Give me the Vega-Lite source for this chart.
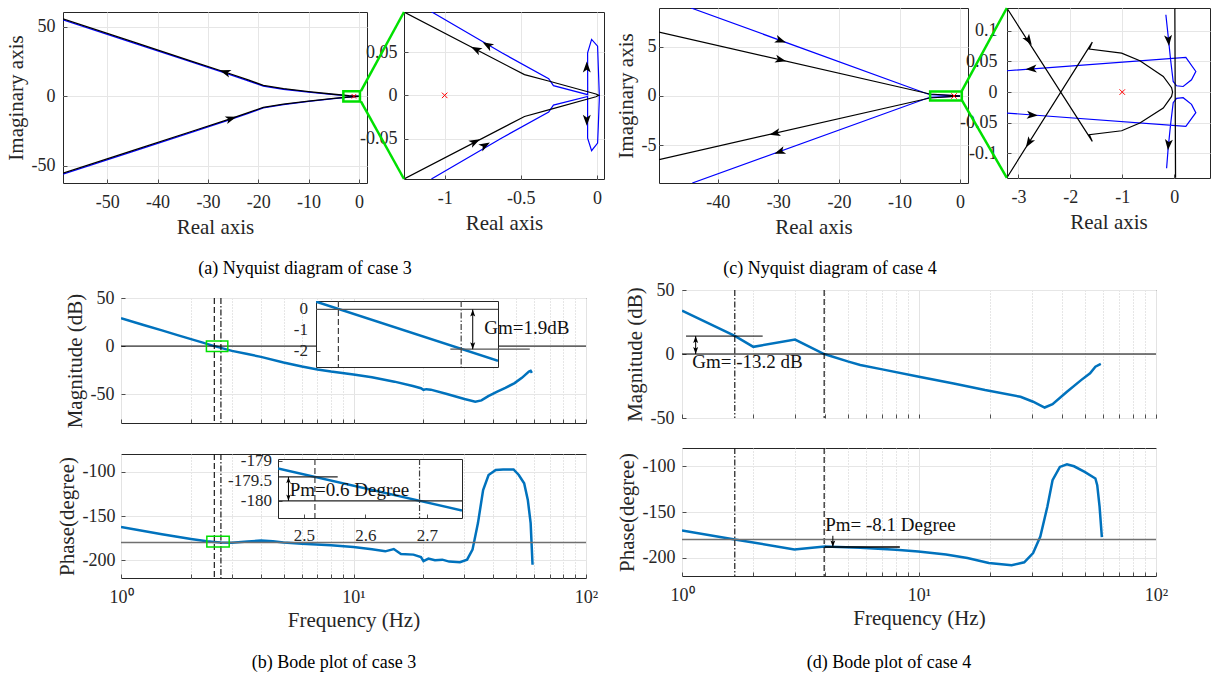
{
"$schema": "https://vega.github.io/schema/vega-lite/v6.json",
"background": "white",
"padding": 0,
"autosize": {"type": "pad"},
"spacing": 0,
"bounds": "flush",
"config": {
 "view": {"stroke": null},
 "axis": {"labelFont": "Liberation Serif", "labelFontSize": 18, "labelColor": "#262626", "titleFont": "Liberation Serif", "titleFontSize": 21, "titleFontWeight": "normal", "titleColor": "#262626", "ticks": true, "tickSize": -4, "tickColor": "#262626", "tickWidth": 0.8, "domain": false, "gridColor": "#e6e6e6", "labelPadding": 12, "titlePadding": 5, "labelFlush": false, "labelOverlap": false},
 "text": {"font": "Liberation Serif", "fontSize": 19, "color": "#111111"},
 "point": {"opacity": 1}
},
"datasets": {
 "cross": [{"x": -1, "y": 0}],
 "zero": [{"y": 0}],
 "m180": [{"y": -180}],
 "aMain": [
  {"g":"k","s":"ku","i":0,"x":-58.8,"y":55.8},{"g":"k","s":"ku","i":1,"x":-45,"y":39.4},{"g":"k","s":"ku","i":2,"x":-33,"y":25.1},{"g":"k","s":"ku","i":3,"x":-26.2,"y":17.0},{"g":"k","s":"ku","i":4,"x":-22,"y":11.8},{"g":"k","s":"ku","i":5,"x":-19,"y":7.9},{"g":"k","s":"ku","i":6,"x":-15,"y":5.6},{"g":"k","s":"ku","i":7,"x":-10,"y":3.4},{"g":"k","s":"ku","i":8,"x":-5,"y":1.5},{"g":"k","s":"ku","i":9,"x":-2,"y":0.5},{"g":"k","s":"ku","i":10,"x":0,"y":0},
  {"g":"k","s":"kl","i":0,"x":-58.8,"y":-55.4},{"g":"k","s":"kl","i":1,"x":-45,"y":-39.2},{"g":"k","s":"kl","i":2,"x":-33,"y":-25.0},{"g":"k","s":"kl","i":3,"x":-26.2,"y":-17.0},{"g":"k","s":"kl","i":4,"x":-22,"y":-11.8},{"g":"k","s":"kl","i":5,"x":-19,"y":-7.9},{"g":"k","s":"kl","i":6,"x":-15,"y":-5.6},{"g":"k","s":"kl","i":7,"x":-10,"y":-3.4},{"g":"k","s":"kl","i":8,"x":-5,"y":-1.5},{"g":"k","s":"kl","i":9,"x":-2,"y":-0.5},{"g":"k","s":"kl","i":10,"x":0,"y":0},
  {"g":"b","s":"bu","i":0,"x":-58.8,"y":55.1},{"g":"b","s":"bu","i":1,"x":-45,"y":38.8},{"g":"b","s":"bu","i":2,"x":-33,"y":24.5},{"g":"b","s":"bu","i":3,"x":-26.2,"y":16.4},{"g":"b","s":"bu","i":4,"x":-22,"y":11.2},{"g":"b","s":"bu","i":5,"x":-19,"y":7.4},{"g":"b","s":"bu","i":6,"x":-15,"y":5.1},{"g":"b","s":"bu","i":7,"x":-10,"y":3.0},{"g":"b","s":"bu","i":8,"x":-5,"y":1.2},{"g":"b","s":"bu","i":9,"x":-2,"y":0.3},{"g":"b","s":"bu","i":10,"x":0,"y":0},
  {"g":"b","s":"bl","i":0,"x":-58.8,"y":-56.1},{"g":"b","s":"bl","i":1,"x":-45,"y":-39.9},{"g":"b","s":"bl","i":2,"x":-33,"y":-25.6},{"g":"b","s":"bl","i":3,"x":-26.2,"y":-17.5},{"g":"b","s":"bl","i":4,"x":-22,"y":-12.3},{"g":"b","s":"bl","i":5,"x":-19,"y":-8.3},{"g":"b","s":"bl","i":6,"x":-15,"y":-6.0},{"g":"b","s":"bl","i":7,"x":-10,"y":-3.7},{"g":"b","s":"bl","i":8,"x":-5,"y":-1.7},{"g":"b","s":"bl","i":9,"x":-2,"y":-0.6},{"g":"b","s":"bl","i":10,"x":0,"y":0}
 ],
 "aMainArrows": [{"x": -26.5, "y": 17.4, "a": 288}, {"x": -25.5, "y": -16.1, "a": 72}],
 "aMainBox": [{"x": -3.1, "x2": 0.2, "y": -3.8, "y2": 3.6}],
 "aIn": [
  {"g":"k","s":"k","i":0,"x":-1.267,"y":0.0965},{"g":"k","s":"k","i":1,"x":-0.476,"y":0.024},{"g":"k","s":"k","i":2,"x":-0.312,"y":0.0163},{"g":"k","s":"k","i":3,"x":-0.007,"y":0.0016},{"g":"k","s":"k","i":4,"x":0.012,"y":0},{"g":"k","s":"k","i":5,"x":-0.007,"y":-0.0016},{"g":"k","s":"k","i":6,"x":-0.312,"y":-0.0165},{"g":"k","s":"k","i":7,"x":-0.476,"y":-0.0244},{"g":"k","s":"k","i":8,"x":-1.267,"y":-0.0968},
  {"g":"b","s":"b","i":0,"x":-1.087,"y":0.0968},{"g":"b","s":"b","i":1,"x":-0.625,"y":0.0493},{"g":"b","s":"b","i":2,"x":-0.317,"y":0.0194},{"g":"b","s":"b","i":3,"x":-0.286,"y":0.0113},{"g":"b","s":"b","i":4,"x":-0.061,"y":0.0008},{"g":"b","s":"b","i":5,"x":-0.0616,"y":0.0493},{"g":"b","s":"b","i":6,"x":-0.0354,"y":0.0648},{"g":"b","s":"b","i":7,"x":0.0039,"y":0.057},{"g":"b","s":"b","i":8,"x":0.0085,"y":0.0337},{"g":"b","s":"b","i":9,"x":0.015,"y":0.0008},{"g":"b","s":"b","i":10,"x":0.015,"y":-0.005},{"g":"b","s":"b","i":11,"x":0.0085,"y":-0.036},{"g":"b","s":"b","i":12,"x":0.0039,"y":-0.0553},{"g":"b","s":"b","i":13,"x":-0.0354,"y":-0.064},{"g":"b","s":"b","i":14,"x":-0.0616,"y":-0.0495},{"g":"b","s":"b","i":15,"x":-0.0616,"y":-0.0012},{"g":"b","s":"b","i":16,"x":-0.286,"y":-0.0113},{"g":"b","s":"b","i":17,"x":-0.317,"y":-0.0194},{"g":"b","s":"b","i":18,"x":-0.625,"y":-0.0493},{"g":"b","s":"b","i":19,"x":-1.087,"y":-0.0968}
 ],
 "aInArrows": [{"x": -0.792, "y": 0.053, "a": 297}, {"x": -0.716, "y": 0.058, "a": 300}, {"x": -0.804, "y": -0.054, "a": 63}, {"x": -0.738, "y": -0.058, "a": 60}, {"x": -0.067, "y": 0.032, "a": 0}, {"x": -0.067, "y": -0.028, "a": 180}],
 "aInLinks": [{"s": "t", "i": 0, "x": -1.55, "y": 0.005}, {"s": "t", "i": 1, "x": -1.267, "y": 0.0965}, {"s": "b", "i": 0, "x": -1.55, "y": -0.007}, {"s": "b", "i": 1, "x": -1.267, "y": -0.0968}],
 "cMain": [
  {"g":"b","s":"bu","i":0,"x":-44.4,"y":8.9},{"g":"b","s":"bu","i":1,"x":-5,"y":0.13},{"g":"b","s":"bu","i":2,"x":-1,"y":0.03},{"g":"b","s":"bu","i":3,"x":0,"y":0},
  {"g":"b","s":"bl","i":0,"x":-44.2,"y":-8.8},{"g":"b","s":"bl","i":1,"x":-5,"y":-0.13},{"g":"b","s":"bl","i":2,"x":-1,"y":-0.03},{"g":"b","s":"bl","i":3,"x":0,"y":0},
  {"g":"k","s":"ku","i":0,"x":-49.7,"y":6.46},{"g":"k","s":"ku","i":1,"x":-5,"y":0.2},{"g":"k","s":"ku","i":2,"x":-1,"y":0.04},{"g":"k","s":"ku","i":3,"x":0,"y":0},
  {"g":"k","s":"kl","i":0,"x":-49.7,"y":-6.43},{"g":"k","s":"kl","i":1,"x":-5,"y":-0.2},{"g":"k","s":"kl","i":2,"x":-1,"y":-0.04},{"g":"k","s":"kl","i":3,"x":0,"y":0}
 ],
 "cMainArrows": [{"x": -29.7, "y": 5.63, "a": 110}, {"x": -29.7, "y": 3.66, "a": 103}, {"x": -29.7, "y": -5.63, "a": 250}, {"x": -30.5, "y": -3.77, "a": 257}],
 "cMainBox": [{"x": -4.95, "x2": 0.28, "y": -0.45, "y2": 0.46}],
 "cIn": [
  {"g":"k","s":"k1","i":0,"x":-3.223,"y":0.137},{"g":"k","s":"k1","i":1,"x":-1.577,"y":-0.0804},{"g":"k","s":"k1","i":2,"x":-1.634,"y":-0.0695},{"g":"k","s":"k1","i":3,"x":-1.012,"y":-0.063},{"g":"k","s":"k1","i":4,"x":-0.66,"y":-0.0505},{"g":"k","s":"k1","i":5,"x":-0.21,"y":-0.026},{"g":"k","s":"k1","i":6,"x":-0.05,"y":-0.0071},{"g":"k","s":"k1","i":7,"x":-0.031,"y":0},{"g":"k","s":"k1","i":8,"x":-0.05,"y":0.0071},{"g":"k","s":"k1","i":9,"x":-0.21,"y":0.0254},{"g":"k","s":"k1","i":10,"x":-0.66,"y":0.051},{"g":"k","s":"k1","i":11,"x":-1.012,"y":0.0635},{"g":"k","s":"k1","i":12,"x":-1.634,"y":0.070},{"g":"k","s":"k1","i":13,"x":-1.577,"y":0.0814},{"g":"k","s":"k1","i":14,"x":-3.223,"y":-0.1396},
  {"g":"k","s":"k2","i":0,"x":0.013,"y":0.137},{"g":"k","s":"k2","i":1,"x":0.02,"y":0},{"g":"k","s":"k2","i":2,"x":0.027,"y":-0.1396},
  {"g":"b","s":"bu","i":0,"x":-3.223,"y":0.0347},{"g":"b","s":"bu","i":1,"x":0.225,"y":0.0564},{"g":"b","s":"bu","i":2,"x":0.417,"y":0.0336},{"g":"b","s":"bu","i":3,"x":0.334,"y":0.020},{"g":"b","s":"bu","i":4,"x":0.173,"y":0.0091},{"g":"b","s":"bu","i":5,"x":0.046,"y":0.0103},{"g":"b","s":"bu","i":6,"x":-0.019,"y":0.0173},{"g":"b","s":"bu","i":7,"x":-0.069,"y":0.0526},{"g":"b","s":"bu","i":8,"x":-0.115,"y":0.0906},{"g":"b","s":"bu","i":9,"x":-0.160,"y":0.126},
  {"g":"b","s":"bl","i":0,"x":-3.223,"y":-0.0342},{"g":"b","s":"bl","i":1,"x":0.225,"y":-0.056},{"g":"b","s":"bl","i":2,"x":0.417,"y":-0.0336},{"g":"b","s":"bl","i":3,"x":0.334,"y":-0.020},{"g":"b","s":"bl","i":4,"x":0.173,"y":-0.0091},{"g":"b","s":"bl","i":5,"x":0.046,"y":-0.0103},{"g":"b","s":"bl","i":6,"x":-0.019,"y":-0.0173},{"g":"b","s":"bl","i":7,"x":-0.069,"y":-0.0526},{"g":"b","s":"bl","i":8,"x":-0.115,"y":-0.0906},{"g":"b","s":"bl","i":9,"x":-0.146,"y":-0.124}
 ],
 "cInArrows": [{"x": -2.808, "y": 0.085, "a": 147}, {"x": -2.794, "y": -0.082, "a": 212}, {"x": -2.743, "y": 0.0378, "a": 266}, {"x": -2.743, "y": -0.0374, "a": 94}, {"x": -0.11, "y": 0.085, "a": 175}, {"x": -0.11, "y": -0.085, "a": 185}],
 "cInLinks": [{"s": "t", "i": 0, "x": -4.09, "y": 0.002}, {"s": "t", "i": 1, "x": -3.223, "y": 0.137}, {"s": "b", "i": 0, "x": -4.09, "y": -0.013}, {"s": "b", "i": 1, "x": -3.223, "y": -0.1396}],
 "bMag": [{"x":1,"y":29.0},{"x":1.25,"y":21.9},{"x":1.5,"y":16.3},{"x":1.75,"y":11.4},{"x":2,"y":7.2},{"x":2.25,"y":3.6},{"x":2.52,"y":0},{"x":2.69,"y":-1.9},{"x":3,"y":-5.0},{"x":3.5,"y":-8.3},{"x":4,"y":-11.2},{"x":5,"y":-17},{"x":6,"y":-21.2},{"x":7,"y":-24.3},{"x":8,"y":-26.5},{"x":10,"y":-29.5},{"x":12,"y":-32.5},{"x":15,"y":-37},{"x":18,"y":-41.5},{"x":19.5,"y":-43.8},{"x":20,"y":-45.5},{"x":20.6,"y":-44.8},{"x":21.5,"y":-45.3},{"x":25,"y":-49.5},{"x":30,"y":-55},{"x":33.4,"y":-57.8},{"x":35.5,"y":-56.5},{"x":38,"y":-52},{"x":41.3,"y":-47.6},{"x":45,"y":-43.5},{"x":49.3,"y":-38.5},{"x":53,"y":-33},{"x":56.8,"y":-26.5},{"x":57.8,"y":-25.8},{"x":58.5,"y":-27.8}],
 "bPh": [{"x":1,"y":-162.5},{"x":1.5,"y":-170.5},{"x":2,"y":-176},{"x":2.34,"y":-178.6},{"x":2.52,"y":-179.4},{"x":2.69,"y":-180},{"x":3,"y":-180.3},{"x":3.5,"y":-178.8},{"x":4,"y":-177.8},{"x":4.5,"y":-178.6},{"x":5,"y":-179.8},{"x":6,"y":-181.3},{"x":8,"y":-183},{"x":10,"y":-185},{"x":12,"y":-187.5},{"x":13.7,"y":-189.9},{"x":14.9,"y":-187.3},{"x":16,"y":-192.9},{"x":18.1,"y":-193.6},{"x":19.5,"y":-196.3},{"x":20,"y":-201},{"x":21,"y":-198.1},{"x":22.4,"y":-200},{"x":24.1,"y":-199.3},{"x":25.8,"y":-201.5},{"x":28.7,"y":-202.2},{"x":30.8,"y":-199.3},{"x":32.5,"y":-188},{"x":34.3,"y":-158},{"x":36.1,"y":-120.6},{"x":38.1,"y":-103.7},{"x":40.9,"y":-98.1},{"x":44,"y":-97.5},{"x":48.8,"y":-97.4},{"x":51.4,"y":-103.7},{"x":54.2,"y":-113.1},{"x":56.2,"y":-131.8},{"x":57.8,"y":-158},{"x":58.9,"y":-205}],
 "dMag": [{"x":1,"y":33.8},{"x":1.67,"y":14.2},{"x":2,"y":5.6},{"x":3,"y":11.3},{"x":3.98,"y":0},{"x":5,"y":-5.8},{"x":5.65,"y":-8.6},{"x":7,"y":-12},{"x":10,"y":-17.8},{"x":14,"y":-23},{"x":19,"y":-28.2},{"x":26.8,"y":-33.4},{"x":30.3,"y":-37.3},{"x":33.9,"y":-41.8},{"x":36.6,"y":-39.2},{"x":42.1,"y":-29.5},{"x":48.3,"y":-20.4},{"x":52.7,"y":-15.1},{"x":55.5,"y":-9.9},{"x":58.5,"y":-7.8}],
 "dPh": [{"x":1,"y":-170.3},{"x":1.67,"y":-180},{"x":2.98,"y":-190.9},{"x":4,"y":-187.7},{"x":5.65,"y":-189},{"x":8,"y":-191.3},{"x":9.93,"y":-193.1},{"x":13,"y":-196.5},{"x":16,"y":-200.4},{"x":19.7,"y":-205.8},{"x":24.6,"y":-208.3},{"x":27.8,"y":-205},{"x":30.3,"y":-194.9},{"x":32.5,"y":-176.8},{"x":34.8,"y":-144.2},{"x":36.6,"y":-115.2},{"x":39.3,"y":-100.7},{"x":42.1,"y":-97.8},{"x":45.1,"y":-100},{"x":50,"y":-106.2},{"x":55.5,"y":-113.4},{"x":56.5,"y":-120.7},{"x":57.8,"y":-144.2},{"x":59.1,"y":-177.5}],
 "bLines": [{"x": 2.52, "k": "gain crossover"}, {"x": 2.69, "k": "phase crossover"}],
 "dLines": [{"x": 3.98, "k": "gain crossover"}, {"x": 1.67, "k": "phase crossover"}],
 "bMagBox": [{"x": 2.33, "x2": 2.88, "y": -5.6, "y2": 5.2}],
 "bPhBox": [{"x": 2.34, "x2": 2.92, "y": -185, "y2": -173}],
 "bMagIn": [{"x": 2.487, "y": 0.37}, {"x": 2.739, "y": -2.45}],
 "bMagInLines": [{"x": 2.518, "k": "gain crossover"}, {"x": 2.688, "k": "phase crossover"}],
 "bMagInGm": [{"x": 2.673, "x2": 2.783, "y": -1.9}],
 "bMagInArrow": [{"x": 2.704, "y": 0, "y2": -1.9}],
 "bMagInHeads": [{"x": 2.704, "y": 0, "a": 0}, {"x": 2.704, "y": -1.9, "a": 180}],
 "bMagInText": [{"x": 2.72, "y": -0.91, "t": "Gm=1.9dB"}],
 "bMagInTicks": [{"y": 0, "t": "0"}, {"y": -1, "t": "-1"}, {"y": -2, "t": "-2"}],
 "bPhIn": [{"x": 2.458, "y": -179.19}, {"x": 2.757, "y": -180.24}],
 "bPhInLines": [{"x": 2.518, "k": "gain crossover"}, {"x": 2.688, "k": "phase crossover"}],
 "bPhInPm": [{"x": 2.458, "x2": 2.555, "y": -179.4}],
 "bPhInArrow": [{"x": 2.475, "y": -179.4, "y2": -180}],
 "bPhInHeads": [{"x": 2.475, "y": -179.4, "a": 0}, {"x": 2.475, "y": -180, "a": 180}],
 "bPhInText": [{"x": 2.477, "y": -179.72, "t": "Pm=0.6 Degree"}],
 "bPhInTicks": [{"y": -179, "t": "-179"}, {"y": -179.5, "t": "-179.5"}, {"y": -180, "t": "-180"}],
 "dMagGm": [{"x": 1.04, "x2": 2.19, "y": 14}],
 "dMagArrow": [{"x": 1.142, "y": 0, "y2": 14}],
 "dMagHeads": [{"x": 1.142, "y": 14, "a": 0}, {"x": 1.142, "y": 0, "a": 180}],
 "dMagText": [{"x": 1.105, "y": -6.2, "t": "Gm= -13.2 dB"}],
 "dPhPm": [{"x": 4.0, "x2": 8.3, "y": -188.3}],
 "dPhArrow": [{"x": 4.33, "y": -176, "y2": -187.5}],
 "dPhHeads": [{"x": 4.33, "y": -188.3, "a": 180}],
 "dPhText": [{"x": 4.02, "y": -164.3, "t": "Pm= -8.1 Degree"}]
},
"vconcat": [
 {"width": 1, "height": 8, "data": {"values": []}, "mark": "point"},
 {"hconcat": [
   {"width": 659, "height": 1, "data": {"values": []}, "mark": "point"},
   {"width": 309, "height": 175, "view": {"stroke": "#262626"},
    "layer": [
     {"data": {"name": "cMain"}, "transform": [{"filter": "datum.g == 'b'"}], "mark": {"type": "line", "color": "#0000ff", "strokeWidth": 1.2, "clip": true},
      "encoding": {"x": {"field": "x", "type": "quantitative", "scale": {"domain": [-49.7, 1.3], "nice": false}, "axis": {"values": [-40, -30, -20, -10, 0], "labelExpr": "'' + datum.value", "title": "Real axis", "labelPadding": 14, "labelOverlap": false}},
                   "y": {"field": "y", "type": "quantitative", "scale": {"domain": [-8.8, 8.9], "nice": false}, "axis": {"values": [-5, 0, 5], "labelExpr": "'' + datum.value", "title": "Imaginary axis", "labelPadding": 7, "labelOverlap": false}},
                   "detail": {"field": "s"}, "order": {"field": "i"}}},
     {"data": {"name": "cMain"}, "transform": [{"filter": "datum.g == 'k'"}], "mark": {"type": "line", "color": "#000000", "strokeWidth": 1.2, "clip": true},
      "encoding": {"x": {"field": "x", "type": "quantitative"}, "y": {"field": "y", "type": "quantitative"}, "detail": {"field": "s"}, "order": {"field": "i"}}},
     {"data": {"name": "cMainArrows"}, "mark": {"type": "point", "shape": "M0,-1L0.65,0.8L0,0.35L-0.65,0.8Z", "filled": true, "color": "#000000", "size": 150},
      "encoding": {"x": {"field": "x", "type": "quantitative"}, "y": {"field": "y", "type": "quantitative"}, "angle": {"field": "a", "type": "quantitative", "scale": null}}},
     {"data": {"name": "cross"}, "mark": {"type": "point", "shape": "M-1,-1L1,1M1,-1L-1,1", "filled": false, "color": "#ff0000", "strokeWidth": 1, "size": 30},
      "encoding": {"x": {"field": "x", "type": "quantitative"}, "y": {"field": "y", "type": "quantitative"}}},
     {"data": {"name": "cMainBox"}, "mark": {"type": "rect", "filled": false, "color": "#00e000", "strokeWidth": 2.5},
      "encoding": {"x": {"field": "x", "type": "quantitative"}, "x2": {"field": "x2"}, "y": {"field": "y", "type": "quantitative"}, "y2": {"field": "y2"}}}
    ]},
   {"width": 39, "height": 1, "data": {"values": []}, "mark": "point"},
   {"width": 203, "height": 170, "view": {"stroke": "#262626"},
    "layer": [
     {"data": {"name": "cIn"}, "transform": [{"filter": "datum.g == 'b'"}], "mark": {"type": "line", "color": "#0000ff", "strokeWidth": 1.2, "clip": true},
      "encoding": {"x": {"field": "x", "type": "quantitative", "scale": {"domain": [-3.22, 0.69], "nice": false}, "axis": {"values": [-3, -2, -1, 0], "labelExpr": "'' + datum.value", "title": "Real axis", "labelPadding": 14, "labelOverlap": false}},
                   "y": {"field": "y", "type": "quantitative", "scale": {"domain": [-0.14, 0.137], "nice": false}, "axis": {"values": [-0.1, -0.05, 0, 0.05, 0.1], "labelExpr": "'' + datum.value", "title": null, "labelPadding": 14, "labelOverlap": false}},
                   "detail": {"field": "s"}, "order": {"field": "i"}}},
     {"data": {"name": "cIn"}, "transform": [{"filter": "datum.g == 'k'"}], "mark": {"type": "line", "color": "#000000", "strokeWidth": 1.2, "clip": true},
      "encoding": {"x": {"field": "x", "type": "quantitative"}, "y": {"field": "y", "type": "quantitative"}, "detail": {"field": "s"}, "order": {"field": "i"}}},
     {"data": {"name": "cInArrows"}, "mark": {"type": "point", "shape": "M0,-1L0.65,0.8L0,0.35L-0.65,0.8Z", "filled": true, "color": "#000000", "size": 150},
      "encoding": {"x": {"field": "x", "type": "quantitative"}, "y": {"field": "y", "type": "quantitative"}, "angle": {"field": "a", "type": "quantitative", "scale": null}}},
     {"data": {"name": "cross"}, "mark": {"type": "point", "shape": "M-1,-1L1,1M1,-1L-1,1", "filled": false, "color": "#ff0000", "strokeWidth": 1, "size": 30},
      "encoding": {"x": {"field": "x", "type": "quantitative"}, "y": {"field": "y", "type": "quantitative"}}},
     {"data": {"name": "cInLinks"}, "mark": {"type": "line", "color": "#00e000", "strokeWidth": 2.5, "clip": false},
      "encoding": {"x": {"field": "x", "type": "quantitative"}, "y": {"field": "y", "type": "quantitative"}, "detail": {"field": "s"}, "order": {"field": "i"}}}
    ]}
  ], "spacing": 0, "bounds": "flush"},
 {"width": 1, "height": 4, "data": {"values": []}, "mark": "point"},
 {"hconcat": [
   {"width": 63, "height": 1, "data": {"values": []}, "mark": "point"},
   {"width": 304, "height": 171, "view": {"stroke": "#262626"},
    "layer": [
     {"data": {"name": "aMain"}, "transform": [{"filter": "datum.g == 'b'"}], "mark": {"type": "line", "color": "#0000ff", "strokeWidth": 1.3, "clip": true},
      "encoding": {"x": {"field": "x", "type": "quantitative", "scale": {"domain": [-58.8, 1.6], "nice": false}, "axis": {"values": [-50, -40, -30, -20, -10, 0], "labelExpr": "'' + datum.value", "title": "Real axis", "labelPadding": 14, "labelOverlap": false}},
                   "y": {"field": "y", "type": "quantitative", "scale": {"domain": [-62.5, 60.8], "nice": false}, "axis": {"values": [-50, 0, 50], "labelExpr": "'' + datum.value", "title": "Imaginary axis", "labelPadding": 12, "labelOverlap": false}},
                   "detail": {"field": "s"}, "order": {"field": "i"}}},
     {"data": {"name": "aMain"}, "transform": [{"filter": "datum.g == 'k'"}], "mark": {"type": "line", "color": "#000000", "strokeWidth": 1.3, "clip": true},
      "encoding": {"x": {"field": "x", "type": "quantitative"}, "y": {"field": "y", "type": "quantitative"}, "detail": {"field": "s"}, "order": {"field": "i"}}},
     {"data": {"name": "aMainArrows"}, "mark": {"type": "point", "shape": "M0,-1L0.65,0.8L0,0.35L-0.65,0.8Z", "filled": true, "color": "#000000", "size": 150},
      "encoding": {"x": {"field": "x", "type": "quantitative"}, "y": {"field": "y", "type": "quantitative"}, "angle": {"field": "a", "type": "quantitative", "scale": null}}},
     {"data": {"name": "cross"}, "mark": {"type": "point", "shape": "M-1,-1L1,1M1,-1L-1,1", "filled": false, "color": "#ff0000", "strokeWidth": 1, "size": 20},
      "encoding": {"x": {"field": "x", "type": "quantitative"}, "y": {"field": "y", "type": "quantitative"}}},
     {"data": {"name": "aMainBox"}, "mark": {"type": "rect", "filled": false, "color": "#00e000", "strokeWidth": 2.5},
      "encoding": {"x": {"field": "x", "type": "quantitative"}, "x2": {"field": "x2"}, "y": {"field": "y", "type": "quantitative"}, "y2": {"field": "y2"}}}
    ]},
   {"width": 37, "height": 1, "data": {"values": []}, "mark": "point"},
   {"width": 200, "height": 167, "view": {"stroke": "#262626"},
    "layer": [
     {"data": {"name": "aIn"}, "transform": [{"filter": "datum.g == 'b'"}], "mark": {"type": "line", "color": "#0000ff", "strokeWidth": 1.2, "clip": true},
      "encoding": {"x": {"field": "x", "type": "quantitative", "scale": {"domain": [-1.267, 0.046], "nice": false}, "axis": {"values": [-1, -0.5, 0], "labelExpr": "'' + datum.value", "title": "Real axis", "labelPadding": 14, "labelOverlap": false}},
                   "y": {"field": "y", "type": "quantitative", "scale": {"domain": [-0.0968, 0.0965], "nice": false}, "axis": {"values": [-0.05, 0, 0.05], "labelExpr": "'' + datum.value", "title": null, "labelPadding": 11, "labelOverlap": false}},
                   "detail": {"field": "s"}, "order": {"field": "i"}}},
     {"data": {"name": "aIn"}, "transform": [{"filter": "datum.g == 'k'"}], "mark": {"type": "line", "color": "#000000", "strokeWidth": 1.2, "clip": true},
      "encoding": {"x": {"field": "x", "type": "quantitative"}, "y": {"field": "y", "type": "quantitative"}, "detail": {"field": "s"}, "order": {"field": "i"}}},
     {"data": {"name": "aInArrows"}, "mark": {"type": "point", "shape": "M0,-1L0.65,0.8L0,0.35L-0.65,0.8Z", "filled": true, "color": "#000000", "size": 150},
      "encoding": {"x": {"field": "x", "type": "quantitative"}, "y": {"field": "y", "type": "quantitative"}, "angle": {"field": "a", "type": "quantitative", "scale": null}}},
     {"data": {"name": "cross"}, "mark": {"type": "point", "shape": "M-1,-1L1,1M1,-1L-1,1", "filled": false, "color": "#ff0000", "strokeWidth": 1, "size": 30},
      "encoding": {"x": {"field": "x", "type": "quantitative"}, "y": {"field": "y", "type": "quantitative"}}},
     {"data": {"name": "aInLinks"}, "mark": {"type": "line", "color": "#00e000", "strokeWidth": 2.5, "clip": false},
      "encoding": {"x": {"field": "x", "type": "quantitative"}, "y": {"field": "y", "type": "quantitative"}, "detail": {"field": "s"}, "order": {"field": "i"}}}
    ]}
  ], "spacing": 0, "bounds": "flush"},
 {"width": 1, "height": 256, "data": {"values": []}, "mark": "point"},
 {"hconcat": [
   {"width": 155, "height": 1, "data": {"values": []}, "mark": "point"},
   {"width": 300, "height": 1, "data": {"values": [{"t": "(a) Nyquist diagram of case 3"}]}, "mark": {"type": "text", "fontSize": 18, "baseline": "middle", "align": "center", "color": "#000000"}, "encoding": {"text": {"field": "t", "type": "nominal"}}},
   {"width": 225, "height": 1, "data": {"values": []}, "mark": "point"},
   {"width": 300, "height": 1, "data": {"values": [{"t": "(c) Nyquist diagram of case 4"}]}, "mark": {"type": "text", "fontSize": 18, "baseline": "middle", "align": "center", "color": "#000000"}, "encoding": {"text": {"field": "t", "type": "nominal"}}}
  ], "spacing": 0, "bounds": "flush"},
 {"width": 1, "height": 22, "data": {"values": []}, "mark": "point"},
 {"hconcat": [
   {"width": 682, "height": 1, "data": {"values": []}, "mark": "point"},
   {"width": 474, "height": 128, "view": {"stroke": "#262626"},
    "layer": [
     {"data": {"name": "dMag"}, "mark": {"type": "line", "color": "#0072BD", "strokeWidth": 2.5, "clip": true},
      "encoding": {"x": {"field": "x", "type": "quantitative", "scale": {"type": "log", "domain": [1, 100], "nice": false}, "axis": {"values": [1,2,3,4,5,6,7,8,9,10,20,30,40,50,60,70,80,90,100], "labels": false, "title": null, "gridDash": {"condition": {"test": "datum.value == 1 || datum.value == 10 || datum.value == 100", "value": []}, "value": [1, 2]}, "gridColor": {"condition": {"test": "datum.value == 1 || datum.value == 10 || datum.value == 100", "value": "#e3e3e3"}, "value": "#cccccc"}}},
                   "y": {"field": "y", "type": "quantitative", "scale": {"domain": [-50, 50], "nice": false}, "axis": {"values": [50, 0, -50], "labelExpr": "'' + datum.value", "title": "Magnitude (dB)", "labelPadding": 12, "labelOverlap": false}}}},
     {"data": {"name": "dLines"}, "mark": {"type": "rule", "color": "#1a1a1a", "strokeWidth": 1.2},
      "encoding": {"x": {"field": "x", "type": "quantitative"}, "strokeDash": {"field": "k", "type": "nominal", "scale": {"domain": ["gain crossover", "phase crossover"], "range": [[6, 3], [6, 2, 1.5, 2]]}, "legend": null}}},
     {"data": {"name": "zero"}, "mark": {"type": "rule", "color": "#000000", "strokeWidth": 1}, "encoding": {"y": {"field": "y", "type": "quantitative"}}},
     {"data": {"name": "dMagGm"}, "mark": {"type": "rule", "color": "#000000", "strokeWidth": 1}, "encoding": {"x": {"field": "x", "type": "quantitative"}, "x2": {"field": "x2"}, "y": {"field": "y", "type": "quantitative"}}},
     {"data": {"name": "dMagArrow"}, "mark": {"type": "rule", "color": "#000000", "strokeWidth": 1}, "encoding": {"x": {"field": "x", "type": "quantitative"}, "y": {"field": "y", "type": "quantitative"}, "y2": {"field": "y2"}}},
     {"data": {"name": "dMagHeads"}, "mark": {"type": "point", "shape": "M0,0L0.5,1.4L0,1.1L-0.5,1.4Z", "filled": true, "color": "#000000", "size": 100},
      "encoding": {"x": {"field": "x", "type": "quantitative"}, "y": {"field": "y", "type": "quantitative"}, "angle": {"field": "a", "type": "quantitative", "scale": null}}},
     {"data": {"name": "dMagText"}, "mark": {"type": "text", "align": "left", "baseline": "middle", "fontSize": 19},
      "encoding": {"x": {"field": "x", "type": "quantitative"}, "y": {"field": "y", "type": "quantitative"}, "text": {"field": "t", "type": "nominal"}}}
    ]}
  ], "spacing": 0, "bounds": "flush"},
 {"width": 1, "height": 8, "data": {"values": []}, "mark": "point"},
 {"hconcat": [
   {"width": 121, "height": 1, "data": {"values": []}, "mark": "point"},
   {"width": 465, "height": 125, "view": {"stroke": "#262626"},
    "layer": [
     {"data": {"name": "bMag"}, "mark": {"type": "line", "color": "#0072BD", "strokeWidth": 2.5, "clip": true},
      "encoding": {"x": {"field": "x", "type": "quantitative", "scale": {"type": "log", "domain": [1, 100], "nice": false}, "axis": {"values": [1,2,3,4,5,6,7,8,9,10,20,30,40,50,60,70,80,90,100], "labels": false, "title": null, "gridDash": {"condition": {"test": "datum.value == 1 || datum.value == 10 || datum.value == 100", "value": []}, "value": [1, 2]}, "gridColor": {"condition": {"test": "datum.value == 1 || datum.value == 10 || datum.value == 100", "value": "#e3e3e3"}, "value": "#cccccc"}}},
                   "y": {"field": "y", "type": "quantitative", "scale": {"domain": [-80, 50], "nice": false}, "axis": {"values": [50, 0, -50], "labelExpr": "'' + datum.value", "title": "Magnitude (dB)", "labelPadding": 11, "labelOverlap": false}}}},
     {"data": {"name": "bLines"}, "mark": {"type": "rule", "color": "#1a1a1a", "strokeWidth": 1.2},
      "encoding": {"x": {"field": "x", "type": "quantitative"}, "strokeDash": {"field": "k", "type": "nominal", "scale": {"domain": ["gain crossover", "phase crossover"], "range": [[6, 3], [6, 2, 1.5, 2]]}, "legend": null}}},
     {"data": {"name": "zero"}, "mark": {"type": "rule", "color": "#000000", "strokeWidth": 1}, "encoding": {"y": {"field": "y", "type": "quantitative"}}},
     {"data": {"name": "bMagBox"}, "mark": {"type": "rect", "filled": false, "color": "#00e000", "strokeWidth": 1.5},
      "encoding": {"x": {"field": "x", "type": "quantitative"}, "x2": {"field": "x2"}, "y": {"field": "y", "type": "quantitative"}, "y2": {"field": "y2"}}}
    ]}
  ], "spacing": 0, "bounds": "flush"},
 {"width": 1, "height": 3, "data": {"values": []}, "mark": "point"},
 {"hconcat": [
   {"width": 316, "height": 1, "data": {"values": []}, "mark": "point"},
   {"width": 182, "height": 66, "view": {"stroke": "#262626", "fill": "#ffffff"},
    "layer": [
     {"data": {"name": "bMagIn"}, "mark": {"type": "line", "color": "#0072BD", "strokeWidth": 2.5, "clip": true},
      "encoding": {"x": {"field": "x", "type": "quantitative", "scale": {"domain": [2.487, 2.739], "nice": false}, "axis": null},
                   "y": {"field": "y", "type": "quantitative", "scale": {"domain": [-2.75, 0.4], "nice": false}, "axis": {"values": [0, -1, -2], "labels": false, "title": null, "grid": false}}}},
     {"data": {"name": "bMagInTicks"}, "mark": {"type": "text", "align": "right", "baseline": "middle", "dx": -8, "fontSize": 17, "color": "#262626"},
      "encoding": {"x": {"datum": 2.487, "type": "quantitative"}, "y": {"field": "y", "type": "quantitative"}, "text": {"field": "t", "type": "nominal"}}},
     {"data": {"name": "bMagInLines"}, "mark": {"type": "rule", "color": "#404040", "strokeWidth": 1.2},
      "encoding": {"x": {"field": "x", "type": "quantitative"}, "strokeDash": {"field": "k", "type": "nominal", "scale": {"domain": ["gain crossover", "phase crossover"], "range": [[6, 3], [6, 2, 1.5, 2]]}, "legend": null}}},
     {"data": {"name": "zero"}, "mark": {"type": "rule", "color": "#555555", "strokeWidth": 1.2}, "encoding": {"y": {"field": "y", "type": "quantitative"}}},
     {"data": {"name": "bMagInGm"}, "mark": {"type": "rule", "color": "#555555", "strokeWidth": 1.2}, "encoding": {"x": {"field": "x", "type": "quantitative"}, "x2": {"field": "x2"}, "y": {"field": "y", "type": "quantitative"}}},
     {"data": {"name": "bMagInArrow"}, "mark": {"type": "rule", "color": "#000000", "strokeWidth": 1}, "encoding": {"x": {"field": "x", "type": "quantitative"}, "y": {"field": "y", "type": "quantitative"}, "y2": {"field": "y2"}}},
     {"data": {"name": "bMagInHeads"}, "mark": {"type": "point", "shape": "M0,0L0.5,1.4L0,1.1L-0.5,1.4Z", "filled": true, "color": "#000000", "size": 100},
      "encoding": {"x": {"field": "x", "type": "quantitative"}, "y": {"field": "y", "type": "quantitative"}, "angle": {"field": "a", "type": "quantitative", "scale": null}}},
     {"data": {"name": "bMagInText"}, "mark": {"type": "text", "align": "left", "baseline": "middle", "fontSize": 19},
      "encoding": {"x": {"field": "x", "type": "quantitative"}, "y": {"field": "y", "type": "quantitative"}, "text": {"field": "t", "type": "nominal"}}}
    ]}
  ], "spacing": 0, "bounds": "flush"},
 {"width": 1, "height": 147, "data": {"values": []}, "mark": "point"},
 {"hconcat": [
   {"width": 682, "height": 1, "data": {"values": []}, "mark": "point"},
   {"width": 474, "height": 128, "view": {"stroke": "#262626"},
    "layer": [
     {"data": {"name": "dPh"}, "mark": {"type": "line", "color": "#0072BD", "strokeWidth": 2.5, "clip": true},
      "encoding": {"x": {"field": "x", "type": "quantitative", "scale": {"type": "log", "domain": [1, 100], "nice": false}, "axis": {"values": [1,2,3,4,5,6,7,8,9,10,20,30,40,50,60,70,80,90,100], "labelExpr": "datum.value == 1 ? '10\u2070' : datum.value == 10 ? '10\u00b9' : datum.value == 100 ? '10\u00b2' : ''", "title": "Frequency (Hz)", "labelPadding": 14, "titlePadding": 3, "labelOverlap": false, "gridDash": {"condition": {"test": "datum.value == 1 || datum.value == 10 || datum.value == 100", "value": []}, "value": [1, 2]}, "gridColor": {"condition": {"test": "datum.value == 1 || datum.value == 10 || datum.value == 100", "value": "#e3e3e3"}, "value": "#cccccc"}}},
                   "y": {"field": "y", "type": "quantitative", "scale": {"domain": [-220, -80], "nice": false}, "axis": {"values": [-100, -150, -200], "labelExpr": "'' + datum.value", "title": "Phase(degree)", "labelPadding": 11, "labelOverlap": false}}}},
     {"data": {"name": "dLines"}, "mark": {"type": "rule", "color": "#1a1a1a", "strokeWidth": 1.2},
      "encoding": {"x": {"field": "x", "type": "quantitative"}, "strokeDash": {"field": "k", "type": "nominal", "scale": {"domain": ["gain crossover", "phase crossover"], "range": [[6, 3], [6, 2, 1.5, 2]]}, "legend": null}}},
     {"data": {"name": "m180"}, "mark": {"type": "rule", "color": "#707070", "strokeWidth": 1.5}, "encoding": {"y": {"field": "y", "type": "quantitative"}}},
     {"data": {"name": "dPhPm"}, "mark": {"type": "rule", "color": "#000000", "strokeWidth": 1.5}, "encoding": {"x": {"field": "x", "type": "quantitative"}, "x2": {"field": "x2"}, "y": {"field": "y", "type": "quantitative"}}},
     {"data": {"name": "dPhArrow"}, "mark": {"type": "rule", "color": "#000000", "strokeWidth": 1}, "encoding": {"x": {"field": "x", "type": "quantitative"}, "y": {"field": "y", "type": "quantitative"}, "y2": {"field": "y2"}}},
     {"data": {"name": "dPhHeads"}, "mark": {"type": "point", "shape": "M0,0L0.5,1.4L0,1.1L-0.5,1.4Z", "filled": true, "color": "#000000", "size": 90},
      "encoding": {"x": {"field": "x", "type": "quantitative"}, "y": {"field": "y", "type": "quantitative"}, "angle": {"field": "a", "type": "quantitative", "scale": null}}},
     {"data": {"name": "dPhText"}, "mark": {"type": "text", "align": "left", "baseline": "middle", "fontSize": 19},
      "encoding": {"x": {"field": "x", "type": "quantitative"}, "y": {"field": "y", "type": "quantitative"}, "text": {"field": "t", "type": "nominal"}}}
    ]}
  ], "spacing": 0, "bounds": "flush"},
 {"width": 1, "height": 6, "data": {"values": []}, "mark": "point"},
 {"hconcat": [
   {"width": 121, "height": 1, "data": {"values": []}, "mark": "point"},
   {"width": 465, "height": 124, "view": {"stroke": "#262626"},
    "layer": [
     {"data": {"name": "bPh"}, "mark": {"type": "line", "color": "#0072BD", "strokeWidth": 2.5, "clip": true},
      "encoding": {"x": {"field": "x", "type": "quantitative", "scale": {"type": "log", "domain": [1, 100], "nice": false}, "axis": {"values": [1,2,3,4,5,6,7,8,9,10,20,30,40,50,60,70,80,90,100], "labelExpr": "datum.value == 1 ? '10\u2070' : datum.value == 10 ? '10\u00b9' : datum.value == 100 ? '10\u00b2' : ''", "title": "Frequency (Hz)", "labelPadding": 14, "titlePadding": 3, "labelOverlap": false, "gridDash": {"condition": {"test": "datum.value == 1 || datum.value == 10 || datum.value == 100", "value": []}, "value": [1, 2]}, "gridColor": {"condition": {"test": "datum.value == 1 || datum.value == 10 || datum.value == 100", "value": "#e3e3e3"}, "value": "#cccccc"}}},
                   "y": {"field": "y", "type": "quantitative", "scale": {"domain": [-220, -80], "nice": false}, "axis": {"values": [-100, -150, -200], "labelExpr": "'' + datum.value", "title": "Phase(degree)", "labelPadding": 10, "labelOverlap": false}}}},
     {"data": {"name": "bLines"}, "mark": {"type": "rule", "color": "#1a1a1a", "strokeWidth": 1.2},
      "encoding": {"x": {"field": "x", "type": "quantitative"}, "strokeDash": {"field": "k", "type": "nominal", "scale": {"domain": ["gain crossover", "phase crossover"], "range": [[6, 3], [6, 2, 1.5, 2]]}, "legend": null}}},
     {"data": {"name": "m180"}, "mark": {"type": "rule", "color": "#707070", "strokeWidth": 1.5}, "encoding": {"y": {"field": "y", "type": "quantitative"}}},
     {"data": {"name": "bPhBox"}, "mark": {"type": "rect", "filled": false, "color": "#00e000", "strokeWidth": 1.5},
      "encoding": {"x": {"field": "x", "type": "quantitative"}, "x2": {"field": "x2"}, "y": {"field": "y", "type": "quantitative"}, "y2": {"field": "y2"}}}
    ]}
  ], "spacing": 0, "bounds": "flush"},
 {"width": 1, "height": 5, "data": {"values": []}, "mark": "point"},
 {"hconcat": [
   {"width": 278, "height": 1, "data": {"values": []}, "mark": "point"},
   {"width": 184, "height": 59, "view": {"stroke": "#262626", "fill": "#ffffff"},
    "layer": [
     {"data": {"name": "bPhIn"}, "mark": {"type": "line", "color": "#0072BD", "strokeWidth": 2.5, "clip": true},
      "encoding": {"x": {"field": "x", "type": "quantitative", "scale": {"domain": [2.458, 2.757], "nice": false}, "axis": {"values": [2.5, 2.6, 2.7], "labelExpr": "'' + datum.value", "title": null, "grid": false, "labelFontSize": 17, "labelPadding": 13, "labelOverlap": false}},
                   "y": {"field": "y", "type": "quantitative", "scale": {"domain": [-180.43, -178.95], "nice": false}, "axis": {"values": [-180, -179.5, -179], "labels": false, "title": null, "grid": false}}}},
     {"data": {"name": "bPhInTicks"}, "mark": {"type": "text", "align": "right", "baseline": "middle", "dx": -6, "fontSize": 17, "color": "#262626"},
      "encoding": {"x": {"datum": 2.458, "type": "quantitative"}, "y": {"field": "y", "type": "quantitative"}, "text": {"field": "t", "type": "nominal"}}},
     {"data": {"name": "bPhInLines"}, "mark": {"type": "rule", "color": "#404040", "strokeWidth": 1.2},
      "encoding": {"x": {"field": "x", "type": "quantitative"}, "strokeDash": {"field": "k", "type": "nominal", "scale": {"domain": ["gain crossover", "phase crossover"], "range": [[6, 3], [6, 2, 1.5, 2]]}, "legend": null}}},
     {"data": {"name": "m180"}, "mark": {"type": "rule", "color": "#222222", "strokeWidth": 1.2}, "encoding": {"y": {"field": "y", "type": "quantitative"}}},
     {"data": {"name": "bPhInPm"}, "mark": {"type": "rule", "color": "#222222", "strokeWidth": 1.2}, "encoding": {"x": {"field": "x", "type": "quantitative"}, "x2": {"field": "x2"}, "y": {"field": "y", "type": "quantitative"}}},
     {"data": {"name": "bPhInArrow"}, "mark": {"type": "rule", "color": "#000000", "strokeWidth": 1}, "encoding": {"x": {"field": "x", "type": "quantitative"}, "y": {"field": "y", "type": "quantitative"}, "y2": {"field": "y2"}}},
     {"data": {"name": "bPhInHeads"}, "mark": {"type": "point", "shape": "M0,0L0.5,1.4L0,1.1L-0.5,1.4Z", "filled": true, "color": "#000000", "size": 80},
      "encoding": {"x": {"field": "x", "type": "quantitative"}, "y": {"field": "y", "type": "quantitative"}, "angle": {"field": "a", "type": "quantitative", "scale": null}}},
     {"data": {"name": "bPhInText"}, "mark": {"type": "text", "align": "left", "baseline": "middle", "fontSize": 19},
      "encoding": {"x": {"field": "x", "type": "quantitative"}, "y": {"field": "y", "type": "quantitative"}, "text": {"field": "t", "type": "nominal"}}}
    ]}
  ], "spacing": 0, "bounds": "flush"},
 {"width": 1, "height": 203, "data": {"values": []}, "mark": "point"},
 {"hconcat": [
   {"width": 184, "height": 1, "data": {"values": []}, "mark": "point"},
   {"width": 300, "height": 1, "data": {"values": [{"t": "(b) Bode plot of case 3"}]}, "mark": {"type": "text", "fontSize": 18, "baseline": "middle", "align": "center", "color": "#000000"}, "encoding": {"text": {"field": "t", "type": "nominal"}}},
   {"width": 255, "height": 1, "data": {"values": []}, "mark": "point"},
   {"width": 300, "height": 1, "data": {"values": [{"t": "(d) Bode plot of case 4"}]}, "mark": {"type": "text", "fontSize": 18, "baseline": "middle", "align": "center", "color": "#000000"}, "encoding": {"text": {"field": "t", "type": "nominal"}}}
  ], "spacing": 0, "bounds": "flush"}
]
}
